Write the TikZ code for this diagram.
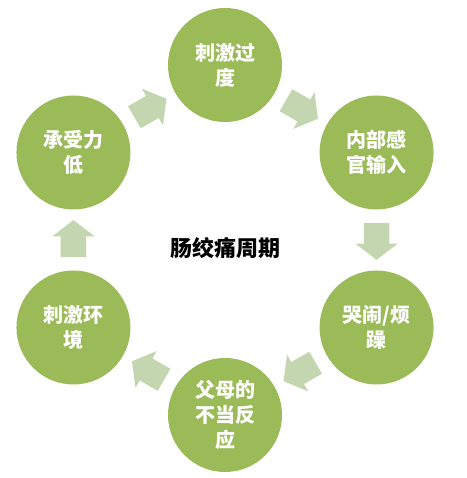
\documentclass[tikz,border=0pt]{standalone}
\usepackage{fontspec}
\newfontfamily\cjk{Noto Sans CJK SC}
\usetikzlibrary{shapes.arrows,calc}
\definecolor{stagegreen}{HTML}{9BBB59}
\definecolor{flowgreen}{HTML}{C4D6B0}

\begin{document}
\begin{tikzpicture}[x=1pt,y=1pt,
    stage/.style={circle,fill=stagegreen,text=white,minimum size=114pt,inner sep=0pt,
        align=center,font=\cjk\bfseries\fontsize{20}{25}\selectfont},
    flow/.style={single arrow,fill=flowgreen,minimum height=37pt,inner xsep=0pt,inner ysep=12.5pt,
        single arrow head extend=8.5pt,single arrow tip angle=105,rotate=#1}]
    \useasboundingbox (0,0) rectangle (466,478);

    % Centre of the cycle
    \coordinate (mid) at (225,238);
    \node[font=\cjk\bfseries\fontsize{22}{26}\selectfont] (title) at (225,230) {肠绞痛周期};

    % Stages
    \node[stage] (s1) at ($(mid)+(90:175)$) {刺激过\\度};
    \node[stage] (s2) at ($(mid)+(30:175)$) {内部感\\官输入};
    \node[stage] (s3) at ($(mid)+(-30:175)$) {哭闹/烦\\躁};
    \node[stage] (s4) at ($(mid)+(-90:175)$) {父母的\\不当反\\应};
    \node[stage] (s5) at ($(mid)+(-150:175)$) {刺激环\\境};
    \node[stage] (s6) at ($(mid)+(150:175)$) {承受力\\低};

    % Arrows between stages
    \node[flow=-30] (f1) at ($(s1)!0.48!(s2)$) {};
    \node[flow=-90] (f2) at ($(s2)!0.48!(s3)$) {};
    \node[flow=-150] (f3) at ($(s3)!0.48!(s4)$) {};
    \node[flow=150] (f4) at ($(s4)!0.48!(s5)$) {};
    \node[flow=90] (f5) at ($(s5)!0.48!(s6)$) {};
    \node[flow=30] (f6) at ($(s6)!0.48!(s1)$) {};
\end{tikzpicture}
\end{document}
